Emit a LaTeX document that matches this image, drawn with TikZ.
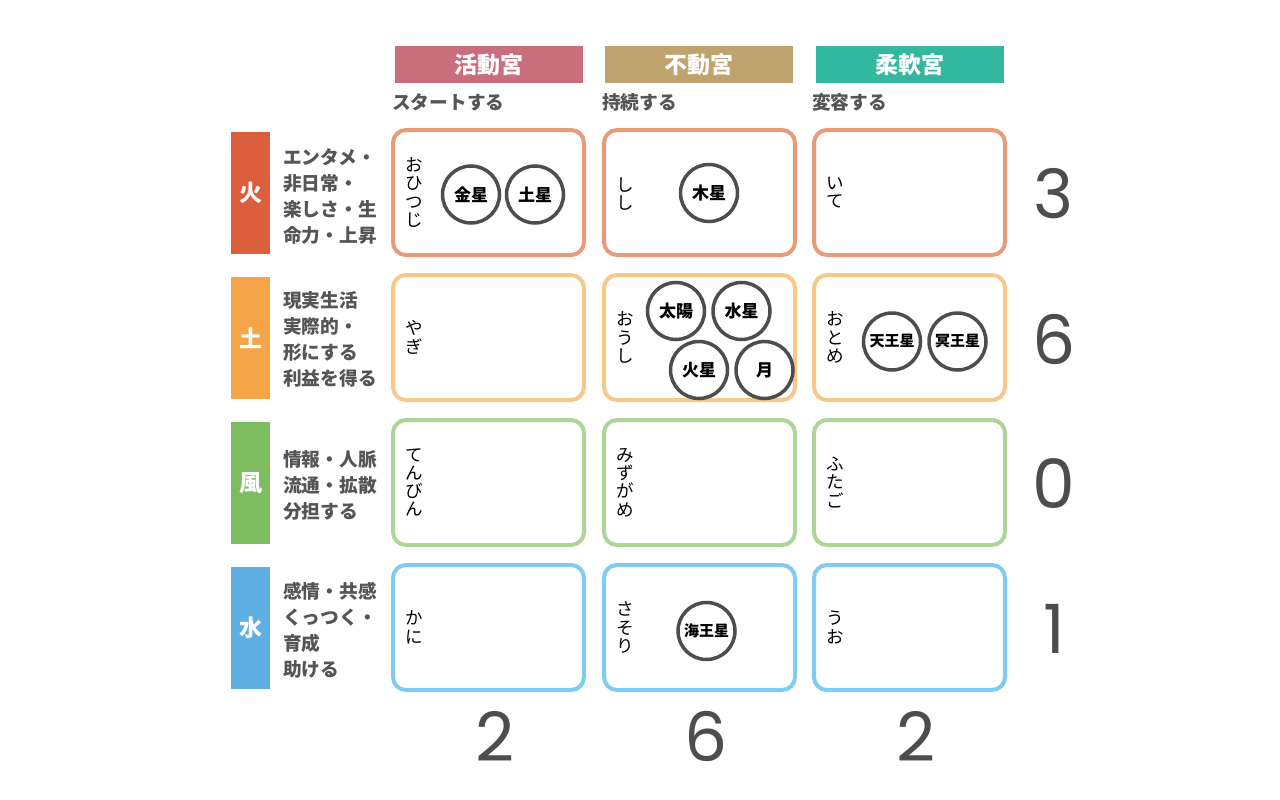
\documentclass[tikz,border=0pt]{standalone}
\usepackage{fontspec}
\setmainfont{Noto Sans CJK JP}
\newfontfamily\numfont{Poppins}
\definecolor{hdrA}{HTML}{C86E7C}
\definecolor{hdrB}{HTML}{BEA36D}
\definecolor{hdrC}{HTML}{33B79E}
\definecolor{barF}{HTML}{DB5F3C}
\definecolor{barE}{HTML}{F5A548}
\definecolor{barA}{HTML}{7DBD60}
\definecolor{barW}{HTML}{5FAFE3}
\definecolor{cellF}{HTML}{E99A79}
\definecolor{cellE}{HTML}{F8C88A}
\definecolor{cellA}{HTML}{AED597}
\definecolor{cellW}{HTML}{80CCF0}
\definecolor{txtgray}{HTML}{555555}
\definecolor{ringgray}{HTML}{4D4D4D}
\tikzset{
  hdrbox/.style={rectangle, minimum width=188pt, minimum height=37pt, inner sep=0pt,
    text=white, font=\bfseries\fontsize{23}{26}\selectfont},
  sublabel/.style={anchor=west, inner sep=0pt, text=txtgray, font=\bfseries\fontsize{18.7}{20}\selectfont},
  sidebar/.style={rectangle, minimum width=39pt, minimum height=122pt, inner sep=0pt,
    text=white, font=\bfseries\fontsize{23}{24}\selectfont},
  desc/.style={anchor=west, align=left, inner sep=0pt, text=txtgray,
    font=\bfseries\fontsize{18.7}{26}\selectfont},
  cellbox/.style={rectangle, rounded corners=13pt, line width=4pt, fill=white,
    minimum width=191pt, minimum height=125pt, inner sep=0pt},
  signtxt/.style={align=center, inner sep=0pt, text=black, font=\fontsize{17.5}{18.3}\selectfont},
  planet/.style={circle, draw=ringgray, line width=3.5pt, fill=white, minimum size=57pt,
    inner sep=0pt, text=black, font=\bfseries\fontsize{17}{18}\selectfont},
  planetsm/.style={planet, font=\bfseries\fontsize{15}{16}\selectfont},
  bignum/.style={inner sep=0pt, text=ringgray, font=\numfont\fontsize{68}{70}\selectfont}
}
\begin{document}
\begin{tikzpicture}[x=1pt,y=-1pt]
\fill[white] (0,0) rectangle (1280,800);
\useasboundingbox (0,0) rectangle (1280,800);

% headers
\node[hdrbox, fill=hdrA] (h1) at (488.5,64.5) {活動宮};
\node[hdrbox, fill=hdrB] (h2) at (699,64.5) {不動宮};
\node[hdrbox, fill=hdrC] (h3) at (909.5,64.5) {柔軟宮};
\node[sublabel] (l1) at (392,102) {スタートする};
\node[sublabel] (l2) at (602,102) {持続する};
\node[sublabel] (l3) at (812,102) {変容する};

% side bars
\node[sidebar, fill=barF] (bF) at (250.5,193) {火};
\node[sidebar, fill=barE] (bE) at (250.5,338) {土};
\node[sidebar, fill=barA] (bA) at (250.5,483) {風};
\node[sidebar, fill=barW] (bW) at (250.5,628) {水};

% descriptions
\node[desc] (dF) at (283,196) {エンタメ・\\非日常・\\楽しさ・生\\命力・上昇};
\node[desc] (dE) at (283,339.5) {現実生活\\実際的・\\形にする\\利益を得る};
\node[desc] (dA) at (283,485.5) {情報・人脈\\流通・拡散\\分担する};
\node[desc] (dW) at (283,630) {感情・共感\\くっつく・\\育成\\助ける};

% cells
\node[cellbox, draw=cellF] (c11) at (488.5,192.5) {};
\node[cellbox, draw=cellF] (c12) at (699.5,192.5) {};
\node[cellbox, draw=cellF] (c13) at (909.5,192.5) {};
\node[cellbox, draw=cellE] (c21) at (488.5,337.5) {};
\node[cellbox, draw=cellE] (c22) at (699.5,337.5) {};
\node[cellbox, draw=cellE] (c23) at (909.5,337.5) {};
\node[cellbox, draw=cellA] (c31) at (488.5,482.5) {};
\node[cellbox, draw=cellA] (c32) at (699.5,482.5) {};
\node[cellbox, draw=cellA] (c33) at (909.5,482.5) {};
\node[cellbox, draw=cellW] (c41) at (488.5,627.5) {};
\node[cellbox, draw=cellW] (c42) at (699.5,627.5) {};
\node[cellbox, draw=cellW] (c43) at (909.5,627.5) {};

% sign names (vertical)
\node[signtxt] (s11) at (414,192.5) {お\\ひ\\つ\\じ};
\node[signtxt] (s12) at (625,194) {し\\し};
\node[signtxt] (s13) at (835,192.5) {い\\て};
\node[signtxt] (s21) at (414,337.5) {や\\ぎ};
\node[signtxt] (s22) at (625,337.5) {お\\う\\し};
\node[signtxt] (s23) at (835,337.5) {お\\と\\め};
\node[signtxt] (s31) at (414,482.5) {て\\ん\\び\\ん};
\node[signtxt] (s32) at (625,482.5) {み\\ず\\が\\め};
\node[signtxt] (s33) at (835,482.5) {ふ\\た\\ご};
\node[signtxt] (s41) at (414,627.5) {か\\に};
\node[signtxt] (s42) at (625,627.5) {さ\\そ\\り};
\node[signtxt] (s43) at (835,627.5) {う\\お};

% planets
\node[planet] (venus) at (471,194.5) {金星};
\node[planet] (saturn) at (535,194.5) {土星};
\node[planet] (jupiter) at (709,193) {木星};
\node[planet] (sun) at (676,311) {太陽};
\node[planet] (mercury) at (741.5,311) {水星};
\node[planet] (mars) at (699,370) {火星};
\node[planet] (moon) at (764.5,370) {月};
\node[planetsm] (uranus) at (892,341.5) {天王星};
\node[planetsm] (pluto) at (957.5,341.5) {冥王星};
\node[planetsm] (neptune) at (706.5,631) {海王星};

% counts
\node[bignum] (nF) at (1054,194) {3};
\node[bignum] (nE) at (1054,339) {6};
\node[bignum] (nA) at (1054,484) {0};
\node[bignum] (nW) at (1054,629) {1};
\node[bignum] (n1) at (495,736) {2};
\node[bignum] (n2) at (706,736) {6};
\node[bignum] (n3) at (916,736) {2};
\end{tikzpicture}
\end{document}
